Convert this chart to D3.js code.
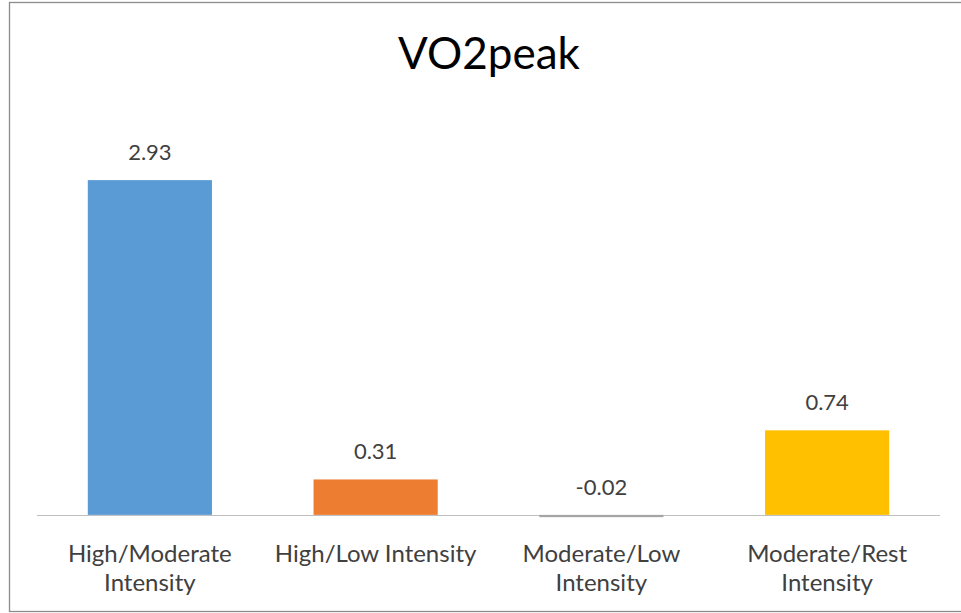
<!DOCTYPE html>
<html><head>
<meta charset="UTF-8">
<title>VO2peak</title>
<script src="https://d3js.org/d3.v7.min.js"></script>
<style>
  html, body { margin: 0; padding: 0; background: #fff; }
  svg { display: block; font-family: Lato, "Open Sans", sans-serif; }
  .value { font-size: 22px; fill: #404040; }
  .tick-label { font-size: 24px; fill: #404040; }
  .title { font-size: 44px; fill: #000; }
</style>
</head>
<body>
<div id="chart"></div>
<script>
// data
const categories = ["High/Moderate Intensity", "High/Low Intensity", "Moderate/Low Intensity", "Moderate/Rest Intensity"];
const tickLabels = [["High/Moderate", "Intensity"], ["High/Low Intensity"], ["Moderate/Low", "Intensity"], ["Moderate/Rest", "Intensity"]];
const values = [2.93, 0.31, -0.02, 0.74];
const valueLabels = ["2.93", "0.31", "-0.02", "0.74"];
const colors = ["#5B9BD5", "#ED7D31", "#A5A5A5", "#FFC000"];

const W = 961, H = 613;
const svg = d3.select("#chart").append("svg")
    .attr("width", W)
    .attr("height", H);

// chart frame
svg.append("rect")
    .attr("x", 9.5).attr("y", 2.5)
    .attr("width", 960).attr("height", 609)
    .attr("fill", "#fff")
    .attr("stroke", "#8c8c8c")
    .attr("stroke-width", 1.3);

svg.append("text")
    .attr("class", "title")
    .attr("x", 489).attr("y", 69)
    .attr("text-anchor", "middle")
    .text("VO2peak");

const x = d3.scaleBand()
    .domain(categories)
    .range([37, 940])
    .paddingInner(0.45)
    .paddingOuter(0.225);

const y = d3.scaleLinear()
    .domain([-0.5, 3.5])
    .range([572, 115]);

// zero line (category axis)
svg.append("line")
    .attr("x1", 37).attr("x2", 940)
    .attr("y1", Math.round(y(0)) + 0.5).attr("y2", Math.round(y(0)) + 0.5)
    .attr("stroke", "#bfbfbf")
    .attr("stroke-width", 1.2);

svg.selectAll(".bar")
    .data(values)
    .enter().append("rect")
    .attr("class", "bar")
    .attr("x", (d, i) => x(categories[i]))
    .attr("width", x.bandwidth())
    .attr("y", d => y(Math.max(0, d)))
    .attr("height", d => Math.abs(y(d) - y(0)))
    .attr("fill", (d, i) => colors[i]);

svg.selectAll(".value")
    .data(values)
    .enter().append("text")
    .attr("class", "value")
    .attr("x", (d, i) => x(categories[i]) + x.bandwidth() / 2)
    .attr("y", d => y(Math.max(0, d)) - 20)
    .attr("text-anchor", "middle")
    .text((d, i) => valueLabels[i]);

const ticks = svg.selectAll(".tick-label")
    .data(categories)
    .enter().append("text")
    .attr("class", "tick-label")
    .attr("text-anchor", "middle")
    .attr("x", d => x(d) + x.bandwidth() / 2)
    .attr("y", 562);

ticks.selectAll("tspan")
    .data((d, i) => tickLabels[i])
    .enter().append("tspan")
    .attr("x", function() { return d3.select(this.parentNode).attr("x"); })
    .attr("dy", (d, i) => i === 0 ? 0 : 29)
    .text(d => d);
</script>
</body>
</html>
